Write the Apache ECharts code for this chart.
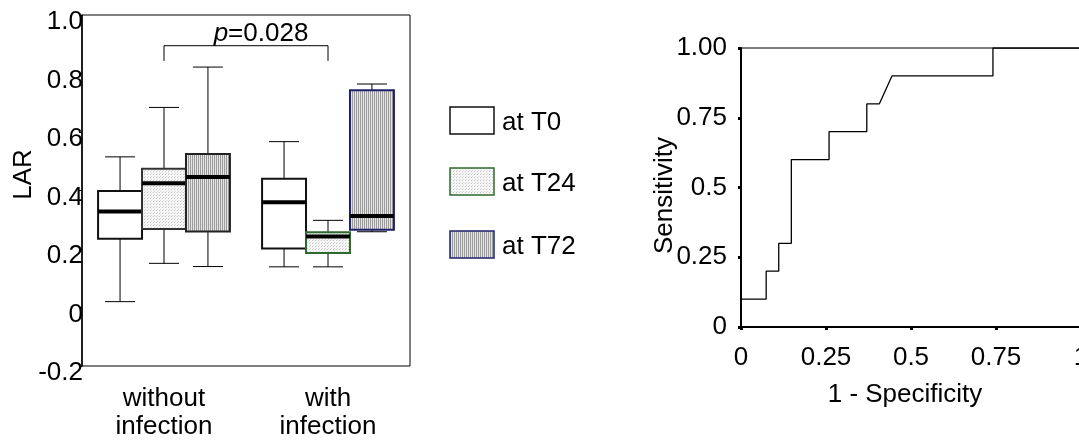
<!DOCTYPE html>
<html>
<head>
<meta charset="utf-8">
<script src="https://cdn.jsdelivr.net/npm/echarts@6/dist/echarts.min.js"></script>
<style>
  html, body { margin: 0; padding: 0; background: #fff; }
  #main { width: 1079px; height: 440px; }
</style>
</head>
<body>
<div id="main"></div>
<script>
  // box plot: [category index, low, q1, median, q3, high]
  const groups = ['without\ninfection', 'with\ninfection']
  const boxT0 = [[0, 0.02, 0.235, 0.328, 0.398, 0.515], [1, 0.139, 0.202, 0.36, 0.44, 0.567]]
  const boxT24 = [[0, 0.151, 0.268, 0.425, 0.474, 0.684], [1, 0.139, 0.186, 0.243, 0.257, 0.298]]
  const boxT72 = [[0, 0.14, 0.26, 0.446, 0.525, 0.822], [1, 0.259, 0.266, 0.313, 0.743, 0.764]]
  const legendNames = ['at T0', 'at T24', 'at T72']
  const pText = '0.028'
  const bracket = [[0, 0.843], [0, 0.895], [1, 0.895], [1, 0.843]]

  // ROC curve
  const rocX = [0, 0, 0.074, 0.074, 0.111, 0.111, 0.148, 0.148, 0.259, 0.259, 0.370, 0.370, 0.407, 0.444, 0.741, 0.741, 1]
  const rocY = [0, 0.1, 0.1, 0.2, 0.2, 0.3, 0.3, 0.6, 0.6, 0.7, 0.7, 0.8, 0.8, 0.9, 0.9, 1.0, 1.0]

  const FONT = 'Liberation Sans, Arial, sans-serif'
  const FS = 26

  function makePattern(kind) {
    let c = document.createElement('canvas')
    let ctx
    if (kind === 'dots') {
      c.width = 3; c.height = 3
      ctx = c.getContext('2d')
      ctx.fillStyle = '#f6f6f6'
      ctx.fillRect(0, 0, 3, 3)
      ctx.fillStyle = '#c4c4c4'
      ctx.fillRect(0, 0, 1, 1)
      ctx.fillStyle = '#dadada'
      ctx.fillRect(1, 2, 1, 1)
    } else {
      c.width = 2; c.height = 2
      ctx = c.getContext('2d')
      ctx.fillStyle = '#e4e4e4'
      ctx.fillRect(0, 0, 2, 2)
      ctx.fillStyle = '#9c9c9c'
      ctx.fillRect(0, 0, 1, 2)
    }
    return { image: c, repeat: 'repeat' }
  }

  const fills = ['#ffffff', makePattern('dots'), makePattern('stripes')]
  const borders = [['#111', '#111'], ['#333', '#2e6b2e'], ['#222', '#20206e']]

  function renderBox(params, api) {
    let s = params.seriesIndex
    let cat = api.value(0)
    let band = api.size([1, 0])[0]
    let w = band * 0.268
    let cx = api.coord([cat, 0])[0] + (s - 1) * w
    let y = i => api.coord([cat, api.value(i)])[1]
    let low = y(1), q1 = y(2), med = y(3), q3 = y(4), high = y(5)
    let cap = 15
    let thin = { stroke: '#000', lineWidth: 1 }
    return {
      type: 'group',
      children: [
        { type: 'line', shape: { x1: cx, y1: high, x2: cx, y2: q3 }, style: thin },
        { type: 'line', shape: { x1: cx, y1: q1, x2: cx, y2: low }, style: thin },
        { type: 'line', shape: { x1: cx - cap, y1: high, x2: cx + cap, y2: high }, style: thin },
        { type: 'line', shape: { x1: cx - cap, y1: low, x2: cx + cap, y2: low }, style: thin },
        { type: 'rect', shape: { x: cx - w / 2, y: q3, width: w, height: q1 - q3 },
          style: { fill: fills[s], stroke: borders[s][cat], lineWidth: 2 } },
        { type: 'line', shape: { x1: cx - w / 2, y1: med, x2: cx + w / 2, y2: med },
          style: { stroke: '#000', lineWidth: 4 } }
      ]
    }
  }

  let chart = echarts.init(document.getElementById('main'))

  let legendGraphics = []
  const legendTop = [107, 168, 231]
  legendNames.forEach((name, i) => {
    legendGraphics.push({
      type: 'rect', shape: { x: 450, y: legendTop[i], width: 44, height: 27 },
      style: { fill: fills[i], stroke: borders[i][1], lineWidth: 1.5 }
    })
    legendGraphics.push({
      type: 'text', x: 502, y: legendTop[i] + 16,
      style: { text: name, font: FS + 'px ' + FONT, fill: '#000', verticalAlign: 'middle' }
    })
  })

  let option = {
    animation: false,
    backgroundColor: '#fff',
    textStyle: { fontFamily: FONT, color: '#000' },
    grid: [
      { left: 82, right: 669, top: 15, bottom: 74, show: true, borderColor: '#000', borderWidth: 1,
        outerBoundsMode: 'none' },
      { left: 741, right: -2, top: 48, bottom: 113, show: true, borderColor: '#000', borderWidth: 1,
        outerBoundsMode: 'none' }
    ],
    xAxis: [
      {
        gridIndex: 0, type: 'category', data: groups,
        axisLine: { show: false }, axisTick: { show: false },
        axisLabel: { fontSize: FS, lineHeight: 28, margin: 19, color: '#000', fontFamily: FONT }
      },
      {
        gridIndex: 1, type: 'value', min: 0, max: 1, interval: 0.25,
        splitLine: { show: false },
        axisLine: { show: true, lineStyle: { color: '#000', width: 2 } },
        axisTick: { show: true, length: 3, lineStyle: { color: '#000', width: 3 } },
        axisLabel: { fontSize: FS, margin: 18, color: '#000', fontFamily: FONT,
          formatter: v => String(v) },
        name: '1 - Specificity', nameLocation: 'middle', nameGap: 55,
        nameTextStyle: { fontSize: FS, color: '#000', fontFamily: FONT, padding: [0, 12, 0, 0] }
      }
    ],
    yAxis: [
      {
        gridIndex: 0, type: 'value', min: -0.2, max: 1.0, interval: 0.2,
        splitLine: { show: false },
        axisLine: { show: true, lineStyle: { color: '#000', width: 1.5 } },
        axisTick: { show: true, length: 3, lineStyle: { color: '#000', width: 1 } },
        axisLabel: { margin: -1, color: '#000',
          formatter: v => '{a|' + (Math.abs(v) < 1e-9 ? '0' : v.toFixed(1)) + '}',
          rich: { a: { fontSize: FS, fontFamily: FONT, color: '#000', padding: [14, 0, 0, 0] } } },
        name: 'LAR', nameLocation: 'middle', nameGap: 45, nameMoveOverlap: false,
        nameTextStyle: { fontSize: FS, color: '#000', fontFamily: FONT, padding: [0, 0, 0, 32] }
      },
      {
        gridIndex: 1, type: 'value', min: 0, max: 1, interval: 0.25,
        splitLine: { show: false },
        axisLine: { show: true, lineStyle: { color: '#000', width: 2 } },
        axisTick: { show: true, length: 3, lineStyle: { color: '#000', width: 3 } },
        axisLabel: { fontSize: FS, margin: 14, color: '#000', fontFamily: FONT,
          formatter: v => v === 1 ? '1.00' : String(v) },
        name: 'Sensitivity', nameLocation: 'middle', nameGap: 63, nameMoveOverlap: false,
        nameTextStyle: { fontSize: FS, color: '#000', fontFamily: FONT, padding: [0, 16, 0, 0] }
      }
    ],
    series: [
      { name: legendNames[0], type: 'custom', xAxisIndex: 0, yAxisIndex: 0, renderItem: renderBox,
        encode: { x: 0, y: [1, 2, 3, 4, 5] }, data: boxT0 },
      { name: legendNames[1], type: 'custom', xAxisIndex: 0, yAxisIndex: 0, renderItem: renderBox,
        encode: { x: 0, y: [1, 2, 3, 4, 5] }, data: boxT24 },
      { name: legendNames[2], type: 'custom', xAxisIndex: 0, yAxisIndex: 0, renderItem: renderBox,
        encode: { x: 0, y: [1, 2, 3, 4, 5] }, data: boxT72 },
      { type: 'line', xAxisIndex: 0, yAxisIndex: 0, data: bracket, symbol: 'none',
        lineStyle: { color: '#000', width: 1 }, silent: true },
      { type: 'line', xAxisIndex: 1, yAxisIndex: 1, symbol: 'none',
        data: rocX.map((x, i) => [x, rocY[i]]),
        lineStyle: { color: '#000', width: 1.3 } }
    ],
    graphic: [
      {
        type: 'text', x: 261, y: 34,
        style: {
          text: '{i|p}=' + pText, font: FS + 'px ' + FONT, fill: '#000', align: 'center', verticalAlign: 'middle',
          rich: { i: { fontStyle: 'italic', fontSize: FS, fontFamily: FONT } }
        }
      }
    ].concat(legendGraphics)
  }

  chart.setOption(option)
</script>
</body>
</html>
